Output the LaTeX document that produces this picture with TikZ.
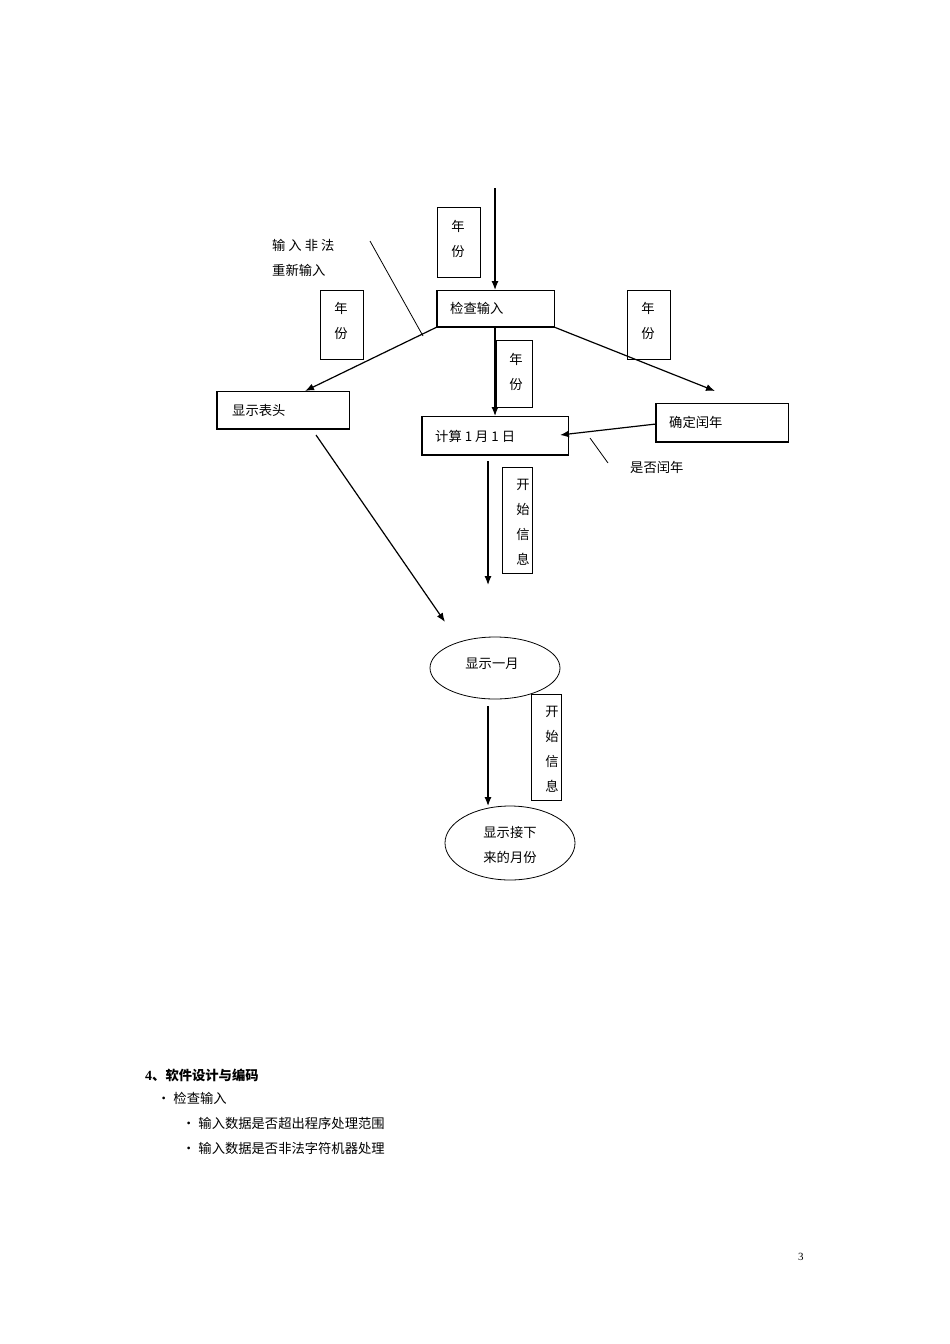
\documentclass[tikz,border=0pt]{standalone}
\usepackage{fontspec}
\setmainfont{Liberation Serif}
\newfontfamily\cjk{Noto Sans CJK SC}[Scale=0.95]
\usetikzlibrary{arrows.meta}
\begin{document}
\begin{tikzpicture}[x=1pt,y=-1pt,
  font=\cjk\fontsize{14}{25}\selectfont,
  box/.style={draw,line width=0.8pt},
  arr/.style={line width=1.2pt,-{Latex[length=9pt,width=7pt]}},
  thin/.style={line width=0.8pt},
  txt/.style={inner sep=0pt,anchor=west}]
\useasboundingbox (0,0) rectangle (950,1344);
% boxes
\newcommand\bx[5]{\draw[box] (#1,#2) rectangle (#3,#4);
  \draw[line width=1.6pt] (#1,#2)--(#1,#4)--(#3,#4);
  \node[inner sep=0pt] (#5) at ({(#1+#3)/2},{(#2+#4)/2}) {};}
\bx{437}{290}{554}{327}{chk}
\node[txt] at (450,308) {检查输入};
\bx{217}{391}{349}{429}{hdr}
\node[txt] at (232,410) {显示表头};
\bx{422}{416}{568}{455}{calc}
\node[txt] at (435,436) {计算 1 月 1 日};
\bx{656}{403}{788}{442}{leap}
\node[txt] at (669,422) {确定闰年};
% label boxes
\draw[box] (437,207) rectangle (480,277);
\node[align=center,inner sep=0pt] (y1) at (458,239) {年\\份};
\draw[box] (320,290) rectangle (363,359);
\node[align=center,inner sep=0pt] (y2) at (341,321) {年\\份};
\draw[box] (627,290) rectangle (670,359);
\node[align=center,inner sep=0pt] (y3) at (648,321) {年\\份};
\draw[box] (496,340) rectangle (532,407);
\node[align=center,inner sep=0pt] (y4) at (516,372) {年\\份};
\draw[box] (502,467) rectangle (532,573);
\node[align=center,inner sep=0pt] (s1) at (523,522) {开\\始\\信\\息};
\draw[box] (531,694) rectangle (561,800);
\node[align=center,inner sep=0pt] (s2) at (552,749) {开\\始\\信\\息};
% ellipses
\draw[thin] (495,668) ellipse [x radius=65, y radius=31];
\node (m1) at (492,664) {显示一月};
\draw[thin] (510,843) ellipse [x radius=65, y radius=37];
\node[align=center] (m2) at (510,845) {显示接下\\来的月份};
% connectors
\coordinate (in) at (495,188);
\coordinate (chkT) at (495,290);
\draw[arr] (in) -- (chkT);
\coordinate (chkBL) at (437,327);
\coordinate (chkBR) at (554,327);
\coordinate (chkB) at (495,327);
\coordinate (hdrT) at (305,391);
\coordinate (rt) at (715,391);
\coordinate (calcT) at (495,416);
\draw[arr] (chkBL) -- (hdrT);
\draw[arr] (chkBR) -- (rt);
\draw[arr] (chkB) -- (calcT);
\coordinate (leapL) at (656,424);
\coordinate (calcR) at (560,435);
\draw[arr] (leapL) -- (calcR);
\coordinate (c1) at (488,461); \coordinate (c2) at (488,585);
\draw[arr] (c1) -- (c2);
\coordinate (h1) at (316,435); \coordinate (h2) at (445,622);
\draw[arr] (h1) -- (h2);
\coordinate (e1) at (488,706); \coordinate (e2) at (488,806);
\draw[arr] (e1) -- (e2);
% annotations
\coordinate (a1) at (370,241); \coordinate (a2) at (423,336);
\draw[thin] (a1) -- (a2);
\coordinate (b1) at (590,438); \coordinate (b2) at (608,463);
\draw[thin] (b1) -- (b2);
\node[txt] at (272,245) {输 入 非 法};
\node[txt] at (272,270) {重新输入};
\node[txt] at (630,467) {是否闰年};
% bottom text
\node[txt] at (145,1075) {\bfseries\fontspec{Liberation Serif}4\cjk\bfseries、软件设计与编码};
\node[txt] at (157,1098) {• 检查输入};
\node[txt] at (182,1123) {• 输入数据是否超出程序处理范围};
\node[txt] at (182,1148) {• 输入数据是否非法字符机器处理};
\node[txt,font=\fontsize{11}{13}\selectfont] at (798,1257) {3};
\end{tikzpicture}
\end{document}
